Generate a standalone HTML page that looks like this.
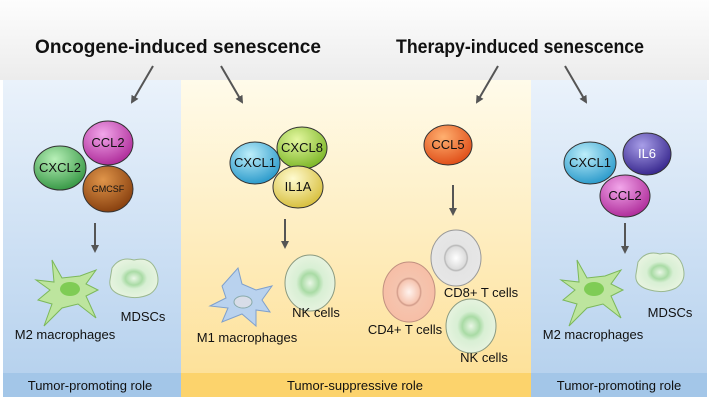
<!DOCTYPE html>
<html><head><meta charset="utf-8"><style>
html,body{margin:0;padding:0;background:#fff;}
svg{display:block;}
text{font-family:"Liberation Sans",Arial,sans-serif;}
</style></head><body>
<svg width="709" height="400" viewBox="0 0 709 400" xmlns="http://www.w3.org/2000/svg">
<defs>
<linearGradient id="top" x1="0" y1="0" x2="0" y2="1"><stop offset="0" stop-color="#fdfdfd"/><stop offset="1" stop-color="#ececec"/></linearGradient>
<linearGradient id="blue" x1="0" y1="0" x2="0" y2="1"><stop offset="0" stop-color="#eaf2fb"/><stop offset="1" stop-color="#b7d2ee"/></linearGradient>
<linearGradient id="yel" x1="0" y1="0" x2="0" y2="1"><stop offset="0" stop-color="#fffbea"/><stop offset="1" stop-color="#fde19a"/></linearGradient>
<radialGradient id="gMag" cx="0.4" cy="0.3" r="0.7"><stop offset="0" stop-color="#f2a6ea"/><stop offset="1" stop-color="#b02f9c"/></radialGradient>
<radialGradient id="gGrn" cx="0.4" cy="0.3" r="0.7"><stop offset="0" stop-color="#b8f0b8"/><stop offset="1" stop-color="#3a9a48"/></radialGradient>
<radialGradient id="gBrn" cx="0.4" cy="0.3" r="0.7"><stop offset="0" stop-color="#e0954a"/><stop offset="1" stop-color="#8a4210"/></radialGradient>
<radialGradient id="gCyan" cx="0.4" cy="0.3" r="0.7"><stop offset="0" stop-color="#bdeefa"/><stop offset="1" stop-color="#2e9ccc"/></radialGradient>
<radialGradient id="gLime" cx="0.4" cy="0.3" r="0.7"><stop offset="0" stop-color="#e4f7a0"/><stop offset="1" stop-color="#7fb82a"/></radialGradient>
<radialGradient id="gYl" cx="0.4" cy="0.3" r="0.7"><stop offset="0" stop-color="#fffbd0"/><stop offset="1" stop-color="#d8c040"/></radialGradient>
<radialGradient id="gOr" cx="0.4" cy="0.3" r="0.7"><stop offset="0" stop-color="#ffb070"/><stop offset="1" stop-color="#e0501a"/></radialGradient>
<radialGradient id="gPur" cx="0.4" cy="0.3" r="0.7"><stop offset="0" stop-color="#a89ee8"/><stop offset="1" stop-color="#3a2a90"/></radialGradient>
<radialGradient id="gNK" cx="0.5" cy="0.5" r="0.5"><stop offset="0" stop-color="#eaf7e6"/><stop offset="0.35" stop-color="#a9dba5"/><stop offset="0.55" stop-color="#d8efd4"/><stop offset="1" stop-color="#e6f3df"/></radialGradient>
<radialGradient id="gCD8" cx="0.5" cy="0.5" r="0.5"><stop offset="0" stop-color="#ffffff"/><stop offset="0.4" stop-color="#dcdcdc"/><stop offset="0.45" stop-color="#b5b5b5"/><stop offset="0.5" stop-color="#e4e4e4"/><stop offset="1" stop-color="#e6e6e6"/></radialGradient>
<radialGradient id="gCD4" cx="0.5" cy="0.5" r="0.5"><stop offset="0" stop-color="#fff3ee"/><stop offset="0.4" stop-color="#f6c6b2"/><stop offset="0.45" stop-color="#d09a88"/><stop offset="0.5" stop-color="#f5c4ae"/><stop offset="1" stop-color="#f6bea6"/></radialGradient>
<marker id="ah" markerWidth="8" markerHeight="8" refX="6" refY="4" orient="auto" markerUnits="userSpaceOnUse"><path d="M0,0 L8,4 L0,8 Z" fill="#555"/></marker>
</defs>
<rect x="0" y="0" width="709" height="80" fill="url(#top)"/>
<rect x="3" y="80" width="178" height="293" fill="url(#blue)"/>
<rect x="181" y="80" width="350" height="293" fill="url(#yel)"/>
<rect x="531" y="80" width="176" height="293" fill="url(#blue)"/>
<rect x="3" y="373" width="178" height="24" fill="#a3c6e8"/>
<rect x="181" y="373" width="350" height="24" fill="#fcd36c"/>
<rect x="531" y="373" width="176" height="24" fill="#a3c6e8"/>

<text x="178" y="53" font-size="19" font-weight="bold" text-anchor="middle" fill="#111" textLength="286" lengthAdjust="spacingAndGlyphs">Oncogene-induced senescence</text>
<text x="520" y="53" font-size="19" font-weight="bold" text-anchor="middle" fill="#111" textLength="248" lengthAdjust="spacingAndGlyphs">Therapy-induced senescence</text>

<g stroke="#555" stroke-width="2" marker-end="url(#ah)">
<line x1="153" y1="66" x2="132" y2="102"/>
<line x1="221" y1="66" x2="242" y2="102"/>
<line x1="498" y1="66" x2="477" y2="102"/>
<line x1="565" y1="66" x2="586" y2="102"/>
<line x1="95" y1="223" x2="95" y2="251"/>
<line x1="285" y1="219" x2="285" y2="247"/>
<line x1="453" y1="185" x2="453" y2="214"/>
<line x1="625" y1="223" x2="625" y2="252"/>
</g>

<g stroke="#333" stroke-width="1">
<ellipse cx="108" cy="143" rx="25" ry="22" fill="url(#gMag)"/>
<ellipse cx="60" cy="168" rx="26" ry="22" fill="url(#gGrn)"/>
<ellipse cx="108" cy="189" rx="25" ry="23" fill="url(#gBrn)"/>
<ellipse cx="302" cy="148" rx="25" ry="21" fill="url(#gLime)"/>
<ellipse cx="255" cy="163" rx="25" ry="21" fill="url(#gCyan)"/>
<ellipse cx="298" cy="187" rx="25" ry="21" fill="url(#gYl)"/>
<ellipse cx="448" cy="145" rx="24" ry="20" fill="url(#gOr)"/>
<ellipse cx="647" cy="154" rx="24" ry="21" fill="url(#gPur)"/>
<ellipse cx="590" cy="163" rx="26" ry="21" fill="url(#gCyan)"/>
<ellipse cx="625" cy="196" rx="25" ry="21" fill="url(#gMag)"/>
</g>
<g font-size="13" text-anchor="middle" fill="#111">
<text x="108" y="147">CCL2</text>
<text x="60" y="172">CXCL2</text>
<text x="108" y="192" font-size="9">GMCSF</text>
<text x="302" y="152">CXCL8</text>
<text x="255" y="167">CXCL1</text>
<text x="298" y="191">IL1A</text>
<text x="448" y="149">CCL5</text>
<text x="647" y="158" fill="#fff">IL6</text>
<text x="590" y="167">CXCL1</text>
<text x="625" y="200">CCL2</text>
</g>

<!-- left cells -->
<path d="M52,260 L62,278 L80,276 L96,270 L86,284 L98,290 L86,296 L96,318 L78,304 L62,308 L44,326 L52,304 L38,300 L50,290 L36,280 L54,282 Z" fill="#bde59e" stroke="#7cb85a" stroke-width="1"/>
<ellipse cx="70" cy="289" rx="10" ry="7" fill="#7fcc55"/>
<path d="M112,268 Q120,256 134,260 Q150,256 156,270 Q162,286 150,294 Q138,300 124,296 Q108,292 110,280 Z" fill="url(#gNK)" stroke="#9ab890"/>
<!-- middle cells -->
<path d="M238,268 L242,284 L256,290 L272,286 L262,300 L270,312 L256,310 L256,326 L242,314 L222,322 L228,308 L210,306 L226,298 L222,286 Z" fill="#b9d2ee" stroke="#7fa0cc"/>
<ellipse cx="243" cy="302" rx="9" ry="6" fill="#d8dde8" stroke="#8aa"/>
<ellipse cx="310" cy="283" rx="25" ry="28" fill="url(#gNK)" stroke="#8a9a80"/>
<ellipse cx="456" cy="258" rx="25" ry="28" fill="url(#gCD8)" stroke="#999"/>
<ellipse cx="409" cy="292" rx="26" ry="30" fill="url(#gCD4)" stroke="#c09080"/>
<ellipse cx="471" cy="326" rx="25" ry="27" fill="url(#gNK)" stroke="#8a9a80"/>
<!-- right cells -->
<path d="M577,260 L587,278 L605,276 L621,270 L611,284 L623,290 L611,296 L621,318 L603,304 L587,308 L569,326 L577,304 L563,300 L575,290 L561,280 L579,282 Z" fill="#bde59e" stroke="#7cb85a"/>
<ellipse cx="594" cy="289" rx="10" ry="7" fill="#7fcc55"/>
<path d="M638,262 Q646,250 660,254 Q676,250 682,264 Q688,280 676,288 Q664,294 650,290 Q634,286 636,274 Z" fill="url(#gNK)" stroke="#9ab890"/>

<g font-size="13" fill="#111" text-anchor="middle">
<text x="143" y="321">MDSCs</text>
<text x="65" y="339">M2 macrophages</text>
<text x="316" y="317">NK cells</text>
<text x="247" y="342">M1 macrophages</text>
<text x="481" y="297">CD8+ T cells</text>
<text x="405" y="334">CD4+ T cells</text>
<text x="484" y="362">NK cells</text>
<text x="670" y="317">MDSCs</text>
<text x="593" y="339">M2 macrophages</text>
<text x="90" y="390">Tumor-promoting role</text>
<text x="355" y="390">Tumor-suppressive role</text>
<text x="619" y="390">Tumor-promoting role</text>
</g>
</svg>
</body></html>
